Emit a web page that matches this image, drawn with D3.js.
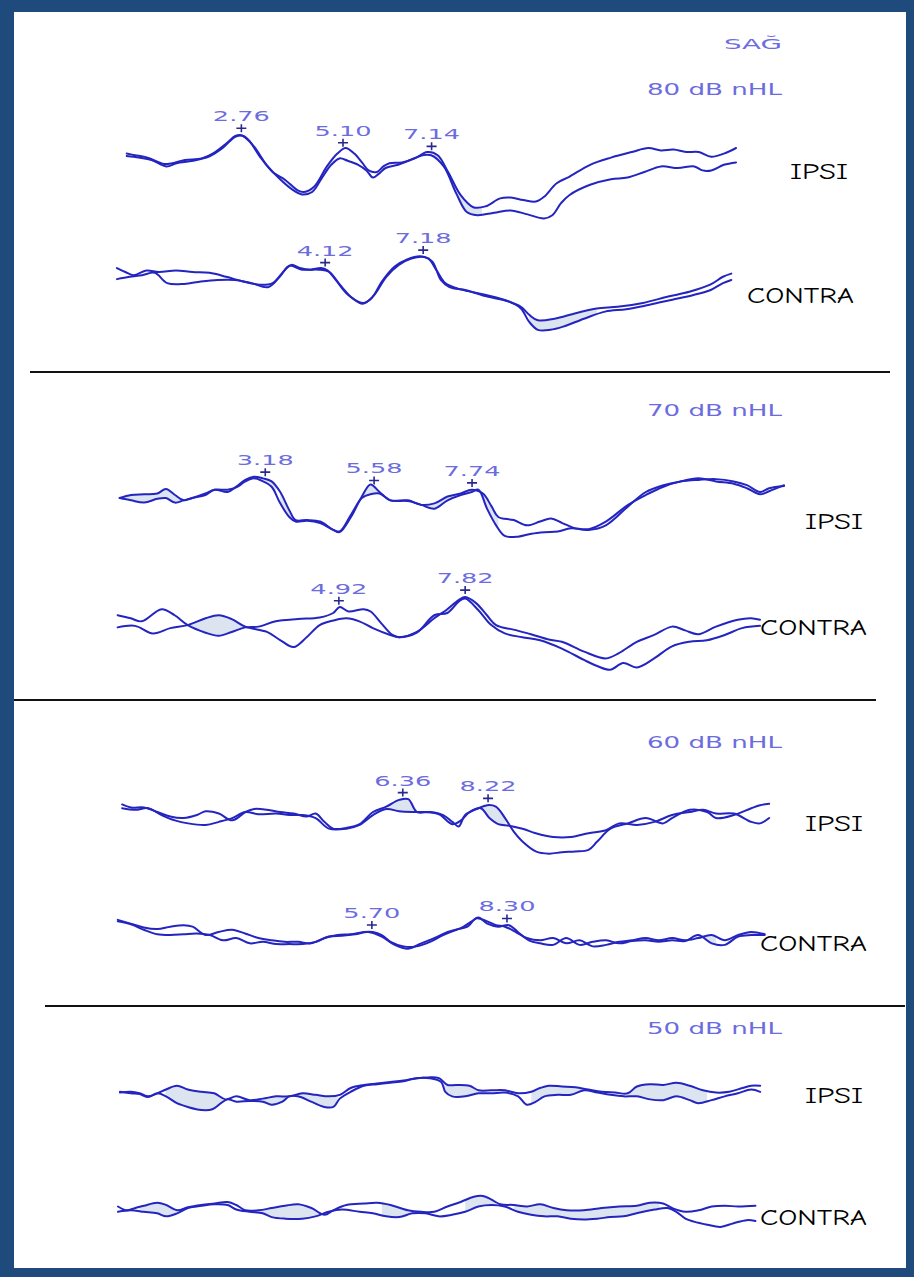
<!DOCTYPE html>
<html>
<head>
<meta charset="utf-8">
<script src="https://cdn.jsdelivr.net/npm/d3@7"></script>
<style>
  html, body { margin: 0; padding: 0; background: #ffffff; }
  svg { display: block; }
</style>
</head>
<body>
<svg id="chart" width="914" height="1277"></svg>
<script>
// Right ear (SAĞ) ABR recordings: two replications per channel, time in ms, amplitude in µV.
const earLabel = "SAĞ";
const levels = ["80 dB nHL", "70 dB nHL", "60 dB nHL", "50 dB nHL"];
const channels = ["IPSI", "CONTRA"];

// ---- 80 dB nHL ----
const ipsi80A = [[0.12,-0.02],[0.31,-0.04],[0.60,-0.07],[0.98,-0.15],[1.17,-0.14],[1.46,-0.10],[1.85,-0.08],[2.13,-0.01],[2.42,0.11],[2.62,0.20],[2.76,0.21],[2.95,0.13],[3.19,-0.06],[3.48,-0.25],[3.77,-0.35],[4.06,-0.48],[4.20,-0.50],[4.44,-0.43],[4.73,-0.18],[4.97,-0.02],[5.16,0.05],[5.36,-0.02],[5.55,-0.14],[5.69,-0.23],[5.88,-0.25],[6.03,-0.18],[6.17,-0.14],[6.46,-0.13],[6.75,-0.08],[7.04,0.00],[7.28,-0.04],[7.52,-0.25],[7.81,-0.54],[8.10,-0.69],[8.38,-0.68],[8.72,-0.58],[8.96,-0.57],[9.25,-0.60],[9.54,-0.62],[9.73,-0.56],[10.02,-0.39],[10.31,-0.31],[10.79,-0.16],[11.27,-0.07],[11.75,0.00],[12.13,0.05],[12.42,0.02],[12.71,0.03],[13.00,0.00],[13.29,0.00],[13.58,-0.06],[13.87,-0.02],[14.15,0.05]];
const ipsi80B = [[0.12,-0.05],[0.40,-0.07],[0.69,-0.10],[1.03,-0.18],[1.27,-0.14],[1.65,-0.11],[2.04,-0.05],[2.33,0.05],[2.62,0.19],[2.81,0.20],[3.05,0.07],[3.34,-0.16],[3.67,-0.35],[3.96,-0.48],[4.15,-0.53],[4.39,-0.50],[4.63,-0.31],[4.83,-0.16],[5.02,-0.08],[5.21,-0.11],[5.45,-0.16],[5.64,-0.23],[5.79,-0.32],[5.93,-0.27],[6.08,-0.20],[6.37,-0.16],[6.65,-0.10],[6.94,-0.04],[7.13,-0.04],[7.42,-0.18],[7.71,-0.52],[7.95,-0.75],[8.19,-0.79],[8.58,-0.76],[8.96,-0.73],[9.35,-0.78],[9.73,-0.83],[9.92,-0.79],[10.12,-0.64],[10.31,-0.54],[10.79,-0.41],[11.27,-0.34],[11.65,-0.32],[12.04,-0.25],[12.42,-0.18],[12.81,-0.20],[13.19,-0.18],[13.38,-0.23],[13.58,-0.23],[13.87,-0.16],[14.15,-0.13]];
const ipsi80Peaks = [2.76, 5.10, 7.14];
const ipsi80Shade = [[2.85,4.9],[7.2,8.3]];

const contra80A = [[-2.38,0.07],[-2.12,0.02],[-1.86,-0.02],[-1.46,0.04],[-1.07,0.02],[-0.54,0.04],[-0.02,0.02],[0.51,0.01],[1.03,-0.04],[1.56,-0.10],[2.08,-0.14],[2.48,-0.12],[2.87,0.05],[3.07,0.11],[3.33,0.07],[3.66,0.05],[3.99,0.07],[4.19,0.04],[4.45,-0.08],[4.84,-0.27],[5.30,-0.37],[5.57,-0.31],[5.89,-0.10],[6.29,0.09],[6.68,0.18],[7.08,0.22],[7.34,0.19],[7.60,0.04],[7.87,-0.12],[8.26,-0.19],[8.92,-0.25],[9.70,-0.33],[10.23,-0.42],[10.49,-0.52],[10.76,-0.59],[11.28,-0.57],[11.94,-0.50],[12.60,-0.44],[13.25,-0.42],[14.04,-0.37],[14.83,-0.29],[15.49,-0.23],[16.14,-0.14],[16.54,-0.04],[16.80,0.00]];
const contra80B = [[-2.38,-0.07],[-1.99,-0.04],[-1.60,-0.02],[-1.20,0.01],[-0.81,-0.12],[-0.28,-0.13],[0.24,-0.10],[0.77,-0.08],[1.30,-0.08],[1.82,-0.12],[2.35,-0.17],[2.74,-0.02],[3.00,0.10],[3.40,0.05],[3.92,0.05],[4.25,0.02],[4.58,-0.14],[4.97,-0.31],[5.30,-0.38],[5.63,-0.28],[6.03,-0.04],[6.42,0.11],[6.81,0.19],[7.21,0.21],[7.47,0.15],[7.73,-0.08],[8.00,-0.17],[8.52,-0.21],[9.18,-0.29],[9.84,-0.35],[10.23,-0.44],[10.49,-0.61],[10.76,-0.71],[11.15,-0.71],[11.55,-0.67],[12.20,-0.57],[12.86,-0.48],[13.52,-0.45],[14.17,-0.40],[14.96,-0.33],[15.62,-0.27],[16.14,-0.21],[16.54,-0.12],[16.80,-0.08]];
const contra80Peaks = [4.12, 7.18];
const contra80Shade = [[1.95,2.6],[6.2,6.6],[7.47,8.26],[10.49,12.6]];

// ---- 70 dB nHL ----
const ipsi70A = [[-0.03,-0.15],[0.22,-0.11],[0.51,-0.10],[0.80,-0.09],[0.99,-0.03],[1.19,-0.11],[1.38,-0.18],[1.57,-0.15],[1.86,-0.11],[2.06,-0.04],[2.35,-0.07],[2.54,0.00],[2.74,0.09],[2.93,0.13],[3.13,0.11],[3.32,0.07],[3.51,-0.07],[3.71,-0.31],[3.85,-0.44],[4.10,-0.44],[4.39,-0.46],[4.68,-0.57],[4.82,-0.60],[5.07,-0.40],[5.31,-0.13],[5.50,0.03],[5.70,-0.07],[5.94,-0.18],[6.33,-0.18],[6.62,-0.24],[6.91,-0.22],[7.20,-0.13],[7.49,-0.09],[7.73,-0.04],[7.98,-0.09],[8.17,-0.26],[8.32,-0.40],[8.66,-0.44],[8.95,-0.51],[9.24,-0.46],[9.48,-0.42],[9.73,-0.48],[10.02,-0.55],[10.31,-0.57],[10.69,-0.51],[11.18,-0.26],[11.57,-0.07],[11.96,0.02],[12.34,0.07],[12.73,0.09],[13.12,0.10],[13.51,0.07],[13.80,0.02],[14.09,-0.07],[14.29,-0.02],[14.62,0.01]];
const ipsi70B = [[-0.03,-0.15],[0.22,-0.18],[0.51,-0.21],[0.80,-0.16],[0.99,-0.15],[1.19,-0.21],[1.38,-0.18],[1.57,-0.15],[1.86,-0.09],[2.06,-0.04],[2.35,-0.04],[2.54,-0.01],[2.74,0.07],[2.93,0.11],[3.13,0.07],[3.32,0.00],[3.51,-0.22],[3.71,-0.40],[3.85,-0.46],[4.10,-0.45],[4.39,-0.48],[4.68,-0.57],[4.82,-0.59],[5.07,-0.37],[5.31,-0.15],[5.50,-0.10],[5.70,-0.09],[5.94,-0.18],[6.33,-0.19],[6.62,-0.24],[6.91,-0.29],[7.20,-0.18],[7.49,-0.11],[7.73,-0.07],[7.88,-0.04],[8.07,-0.29],[8.27,-0.51],[8.46,-0.65],[8.75,-0.66],[9.05,-0.62],[9.34,-0.60],[9.63,-0.59],[9.92,-0.55],[10.31,-0.56],[10.69,-0.46],[11.18,-0.24],[11.57,-0.11],[11.96,0.00],[12.34,0.07],[12.73,0.11],[13.12,0.07],[13.51,0.04],[13.80,-0.02],[14.09,-0.10],[14.29,-0.06],[14.62,0.02]];
const ipsi70Peaks = [3.18, 5.58, 7.74];
const ipsi70Shade = [[0.07,1.33],[2.74,3.42],[3.51,4.19],[5.26,5.75],[6.52,7.3],[7.78,8.32],[11.37,12.15]];

const contra70A = [[-0.16,-0.08],[0.14,-0.12],[0.39,-0.16],[0.85,0.00],[1.15,-0.08],[1.45,-0.21],[1.86,-0.31],[2.16,-0.35],[2.46,-0.30],[2.77,-0.24],[3.07,-0.23],[3.47,-0.16],[3.98,-0.13],[4.48,-0.11],[4.79,-0.05],[4.94,0.03],[5.14,-0.03],[5.49,0.00],[5.65,-0.03],[5.90,-0.19],[6.15,-0.34],[6.30,-0.37],[6.71,-0.30],[7.11,-0.12],[7.41,0.00],[7.67,0.12],[7.82,0.16],[8.07,0.08],[8.32,-0.08],[8.53,-0.21],[8.93,-0.27],[9.33,-0.33],[9.74,-0.40],[10.04,-0.43],[10.55,-0.56],[11.05,-0.65],[11.35,-0.58],[11.76,-0.43],[12.16,-0.34],[12.57,-0.23],[12.87,-0.28],[13.17,-0.33],[13.58,-0.23],[14.08,-0.14],[14.38,-0.12],[14.59,-0.14]];
const contra70B = [[-0.16,-0.24],[0.24,-0.22],[0.65,-0.32],[1.05,-0.25],[1.45,-0.21],[1.86,-0.12],[2.16,-0.08],[2.46,-0.13],[2.77,-0.23],[3.27,-0.30],[3.58,-0.41],[3.88,-0.50],[4.18,-0.37],[4.48,-0.21],[4.79,-0.15],[5.09,-0.12],[5.39,-0.16],[5.70,-0.25],[6.10,-0.34],[6.30,-0.37],[6.71,-0.31],[7.11,-0.08],[7.41,-0.05],[7.67,0.10],[7.82,0.14],[8.12,-0.01],[8.42,-0.21],[8.73,-0.32],[9.13,-0.37],[9.54,-0.41],[10.04,-0.52],[10.55,-0.67],[10.85,-0.75],[11.15,-0.80],[11.45,-0.71],[11.76,-0.77],[12.16,-0.65],[12.57,-0.49],[12.97,-0.43],[13.37,-0.41],[13.78,-0.34],[14.18,-0.25],[14.59,-0.22]];
const contra70Peaks = [4.92, 7.82];
const contra70Shade = [[1.45,2.77],[7.06,7.52]];

// ---- 60 dB nHL ----
const ipsi60A = [[0.24,0.08],[0.43,0.04],[0.72,0.04],[1.01,-0.02],[1.29,-0.08],[1.58,-0.10],[1.87,-0.06],[2.06,-0.01],[2.35,-0.04],[2.64,-0.13],[2.93,-0.02],[3.12,0.02],[3.40,0.01],[3.69,-0.02],[3.98,-0.04],[4.27,-0.08],[4.46,-0.04],[4.65,-0.15],[4.84,-0.24],[5.13,-0.23],[5.42,-0.18],[5.71,-0.02],[6.00,0.05],[6.28,0.14],[6.48,0.15],[6.67,-0.02],[6.96,-0.02],[7.24,-0.06],[7.44,-0.15],[7.58,-0.21],[7.72,-0.06],[8.01,0.03],[8.20,0.07],[8.39,0.05],[8.59,-0.10],[8.78,-0.28],[8.97,-0.41],[9.26,-0.54],[9.55,-0.57],[9.83,-0.55],[10.12,-0.54],[10.41,-0.52],[10.60,-0.41],[10.89,-0.24],[11.27,-0.17],[11.66,-0.10],[12.04,-0.17],[12.23,-0.10],[12.62,0.01],[13.00,-0.02],[13.19,-0.10],[13.58,-0.06],[13.96,0.03],[14.15,0.07],[14.35,0.09]];
const ipsi60B = [[0.24,0.03],[0.53,0.01],[0.81,0.03],[1.10,-0.06],[1.39,-0.13],[1.68,-0.17],[2.06,-0.19],[2.35,-0.15],[2.64,-0.10],[2.93,-0.02],[3.21,-0.05],[3.60,-0.04],[3.89,-0.06],[4.17,-0.06],[4.46,-0.10],[4.75,-0.24],[5.13,-0.24],[5.42,-0.19],[5.71,-0.06],[6.00,0.02],[6.28,-0.01],[6.57,-0.02],[6.86,-0.02],[7.15,-0.05],[7.44,-0.18],[7.63,-0.13],[7.82,-0.02],[8.06,0.03],[8.25,-0.10],[8.44,-0.18],[8.68,-0.20],[8.97,-0.24],[9.26,-0.30],[9.64,-0.35],[10.03,-0.35],[10.41,-0.30],[10.79,-0.26],[11.08,-0.17],[11.47,-0.19],[11.85,-0.15],[12.23,-0.06],[12.62,-0.02],[12.91,0.01],[13.19,-0.04],[13.58,-0.04],[13.96,-0.15],[14.15,-0.17],[14.35,-0.10]];
const ipsi60Peaks = [6.36, 8.22];
const ipsi60Shade = [[5.6,6.6],[7.9,8.6]];

const contra60A = [[0.81,0.04],[1.06,-0.01],[1.31,-0.06],[1.57,-0.08],[1.82,-0.05],[2.08,-0.03],[2.25,-0.05],[2.50,-0.16],[2.75,-0.12],[3.01,-0.09],[3.26,-0.14],[3.52,-0.20],[3.77,-0.23],[4.02,-0.25],[4.28,-0.25],[4.53,-0.27],[4.79,-0.20],[5.04,-0.16],[5.29,-0.15],[5.55,-0.12],[5.72,-0.12],[5.89,-0.16],[6.06,-0.25],[6.31,-0.31],[6.56,-0.31],[6.82,-0.25],[7.07,-0.16],[7.33,-0.09],[7.54,-0.05],[7.71,0.06],[7.92,0.02],[8.09,-0.03],[8.26,-0.05],[8.47,-0.12],[8.68,-0.20],[8.94,-0.23],[9.19,-0.20],[9.44,-0.27],[9.70,-0.23],[9.95,-0.31],[10.21,-0.29],[10.46,-0.25],[10.71,-0.23],[10.97,-0.20],[11.22,-0.23],[11.48,-0.20],[11.73,-0.23],[11.98,-0.20],[12.24,-0.16],[12.49,-0.23],[12.75,-0.16],[13.00,-0.12],[13.26,-0.15]];
const contra60B = [[0.81,0.02],[1.06,-0.02],[1.31,-0.09],[1.57,-0.15],[1.82,-0.16],[2.08,-0.15],[2.33,-0.14],[2.58,-0.16],[2.84,-0.23],[3.09,-0.20],[3.35,-0.27],[3.60,-0.25],[3.86,-0.28],[4.11,-0.28],[4.36,-0.28],[4.62,-0.25],[4.87,-0.18],[5.12,-0.17],[5.38,-0.15],[5.63,-0.12],[5.89,-0.18],[6.14,-0.29],[6.40,-0.34],[6.65,-0.27],[6.90,-0.20],[7.16,-0.12],[7.41,-0.07],[7.62,0.02],[7.75,0.07],[7.92,-0.01],[8.13,-0.05],[8.34,-0.03],[8.51,-0.12],[8.72,-0.23],[8.94,-0.27],[9.19,-0.29],[9.44,-0.20],[9.70,-0.29],[9.95,-0.25],[10.21,-0.23],[10.46,-0.27],[10.71,-0.24],[10.97,-0.23],[11.22,-0.25],[11.48,-0.23],[11.73,-0.24],[11.98,-0.16],[12.24,-0.27],[12.49,-0.29],[12.75,-0.18],[13.00,-0.16],[13.26,-0.16]];
const contra60Peaks = [5.70, 8.30];
const contra60Shade = [[4.62,5.04],[6.4,7.07],[7.58,8.26],[11.98,12.32],[12.66,13.17]];

// ---- 50 dB nHL (no waves marked) ----
const ipsi50A = [[0.00,-0.08],[0.24,-0.07],[0.43,-0.09],[0.62,-0.13],[0.82,-0.09],[1.01,-0.04],[1.25,0.01],[1.49,-0.04],[1.79,-0.07],[2.07,-0.09],[2.32,-0.17],[2.56,-0.13],[2.85,-0.18],[3.14,-0.16],[3.43,-0.13],[3.72,-0.13],[4.01,-0.09],[4.30,-0.11],[4.59,-0.13],[4.83,-0.11],[5.07,-0.02],[5.36,0.02],[5.65,0.04],[5.94,0.06],[6.23,0.08],[6.52,0.11],[6.77,0.12],[7.01,0.11],[7.20,0.02],[7.39,0.02],[7.68,0.01],[7.88,-0.05],[8.17,-0.05],[8.46,-0.05],[8.75,-0.09],[9.04,-0.07],[9.23,-0.02],[9.42,0.01],[9.71,0.00],[10.01,-0.01],[10.29,-0.04],[10.59,-0.07],[10.88,-0.08],[11.16,-0.09],[11.36,0.00],[11.65,0.03],[11.94,0.02],[12.23,0.05],[12.52,0.01],[12.81,-0.05],[13.10,-0.08],[13.39,-0.07],[13.68,-0.02],[13.87,0.01],[14.07,0.01]];
const ipsi50B = [[0.00,-0.07],[0.24,-0.09],[0.43,-0.10],[0.62,-0.14],[0.82,-0.09],[1.01,-0.13],[1.25,-0.22],[1.49,-0.27],[1.79,-0.31],[2.03,-0.30],[2.22,-0.22],[2.36,-0.17],[2.56,-0.20],[2.85,-0.19],[3.14,-0.20],[3.33,-0.24],[3.57,-0.20],[3.72,-0.13],[3.91,-0.13],[4.20,-0.20],[4.49,-0.27],[4.69,-0.27],[4.83,-0.16],[5.07,-0.07],[5.36,0.01],[5.65,0.03],[5.94,0.05],[6.23,0.07],[6.52,0.11],[6.81,0.11],[7.06,0.06],[7.15,-0.07],[7.30,-0.13],[7.59,-0.13],[7.88,-0.09],[8.17,-0.09],[8.46,-0.08],[8.75,-0.13],[8.94,-0.24],[9.14,-0.20],[9.33,-0.13],[9.62,-0.11],[9.91,-0.11],[10.20,-0.05],[10.49,-0.08],[10.78,-0.11],[11.07,-0.13],[11.36,-0.13],[11.65,-0.17],[11.94,-0.18],[12.23,-0.13],[12.52,-0.18],[12.71,-0.22],[13.00,-0.18],[13.29,-0.13],[13.58,-0.09],[13.87,-0.04],[14.07,-0.07]];
const ipsi50Peaks = [];
const ipsi50Shade = [[1.0,2.27],[2.75,3.62],[3.82,4.78],[7.1,8.07],[9.04,10.2],[11.16,12.9]];

const contra50A = [[0.00,0.05],[0.18,0.00],[0.38,0.03],[0.57,0.06],[0.86,0.10],[1.06,0.07],[1.30,0.00],[1.54,0.04],[1.83,0.07],[2.12,0.09],[2.41,0.11],[2.60,0.07],[2.80,0.00],[3.09,0.00],[3.38,0.03],[3.67,0.06],[3.96,0.08],[4.25,0.03],[4.54,-0.06],[4.73,0.00],[5.02,0.07],[5.41,0.09],[5.70,0.10],[5.99,0.07],[6.37,0.00],[6.66,-0.02],[6.95,-0.02],[7.24,0.05],[7.53,0.11],[7.82,0.18],[8.02,0.19],[8.21,0.14],[8.40,0.08],[8.70,0.07],[8.99,0.05],[9.28,0.08],[9.57,0.03],[9.86,0.00],[10.24,0.00],[10.63,0.03],[11.02,0.05],[11.40,0.06],[11.69,0.10],[11.98,0.09],[12.18,0.03],[12.47,-0.02],[12.76,0.00],[13.05,0.05],[13.34,0.06],[13.63,0.05],[14.01,0.06]];
const contra50B = [[0.00,-0.02],[0.28,0.00],[0.57,-0.02],[0.86,-0.04],[1.06,-0.08],[1.30,-0.04],[1.54,0.03],[1.83,0.06],[2.12,0.08],[2.41,0.07],[2.60,0.01],[2.89,-0.02],[3.18,-0.04],[3.38,-0.09],[3.67,-0.11],[4.05,-0.11],[4.34,-0.08],[4.63,-0.02],[4.92,0.01],[5.31,-0.02],[5.60,-0.04],[5.89,-0.08],[6.18,-0.09],[6.47,-0.04],[6.76,-0.04],[7.05,-0.08],[7.34,-0.06],[7.63,-0.02],[7.92,0.05],[8.21,0.07],[8.50,0.05],[8.79,-0.02],[9.08,-0.06],[9.37,-0.08],[9.66,-0.08],[9.95,-0.11],[10.24,-0.12],[10.53,-0.11],[10.82,-0.09],[11.11,-0.08],[11.40,-0.04],[11.79,0.01],[12.08,0.03],[12.27,-0.02],[12.47,-0.11],[12.66,-0.15],[12.95,-0.19],[13.24,-0.22],[13.53,-0.17],[13.82,-0.13],[14.01,-0.14]];
const contra50Peaks = [];
const contra50Shade = [[0.47,1.35],[2.89,4.63],[5.8,6.57],[7.63,8.31],[8.7,11.9]];

// Recording list: level index, channel index, replications, marked waves, shaded overlap spans
const recordings = [
  { level: 0, channel: 0, a: ipsi80A,   b: ipsi80B,   peaks: ipsi80Peaks,   shade: ipsi80Shade },
  { level: 0, channel: 1, a: contra80A, b: contra80B, peaks: contra80Peaks, shade: contra80Shade },
  { level: 1, channel: 0, a: ipsi70A,   b: ipsi70B,   peaks: ipsi70Peaks,   shade: ipsi70Shade },
  { level: 1, channel: 1, a: contra70A, b: contra70B, peaks: contra70Peaks, shade: contra70Shade },
  { level: 2, channel: 0, a: ipsi60A,   b: ipsi60B,   peaks: ipsi60Peaks,   shade: ipsi60Shade },
  { level: 2, channel: 1, a: contra60A, b: contra60B, peaks: contra60Peaks, shade: contra60Shade },
  { level: 3, channel: 0, a: ipsi50A,   b: ipsi50B,   peaks: ipsi50Peaks,   shade: ipsi50Shade },
  { level: 3, channel: 1, a: contra50A, b: contra50B, peaks: contra50Peaks, shade: contra50Shade }
];

// ---------- layout ----------
const W = 914, H = 1277;
const frame = { x: 14, y: 12, w: 892, h: 1256, color: "#1f4a7c" };
// per recording: pixel of 0 ms, px per ms, baseline y, px per µV, channel label placement
const panels = [
  { x0: 121.5,  k: 43.43, base: 152.0,  gain: 80.0,  lx: 790, ly: 179,  lw: 58 },
  { x0: 193.2,  k: 32.03, base: 273.6,  gain: 79.2,  lx: 747, ly: 303,  lw: 107 },
  { x0: 121.05, k: 45.35, base: 486.7,  gain: 75.75, lx: 805, ly: 529,  lw: 58 },
  { x0: 124.6,  k: 43.55, base: 609.2,  gain: 75.75, lx: 760, ly: 635,  lw: 107 },
  { x0: 111.1,  k: 45.86, base: 810.5,  gain: 75.75, lx: 805, ly: 831,  lw: 58 },
  { x0: 75.7,   k: 51.96, base: 922.9,  gain: 75.75, lx: 760, ly: 951,  lw: 107 },
  { x0: 120.0,  k: 45.5,  base: 1086.5, gain: 75.75, lx: 805, ly: 1103, lw: 58 },
  { x0: 118.0,  k: 45.5,  base: 1210.3, gain: 75.75, lx: 760, ly: 1225, lw: 107 }
];
const levelLabelPos = [ { x: 647, y: 95 }, { x: 647, y: 416 }, { x: 647, y: 748 }, { x: 647, y: 1034 } ];
const separators = [ { x1: 30, x2: 890, y: 372 }, { x1: 14, x2: 876, y: 700 }, { x1: 45, x2: 905, y: 1006 } ];

const traceColor = "#2424c0";
const shadeColor = "#dce4f0";
const textBlue = "#6c6ce0";
const markColor = "#28288e";

const svg = d3.select("#chart");

svg.append("rect").attr("width", W).attr("height", H).attr("fill", frame.color);
svg.append("rect").attr("x", frame.x).attr("y", frame.y).attr("width", frame.w).attr("height", frame.h).attr("fill", "#ffffff");

svg.selectAll("line.sep").data(separators).join("line")
  .attr("class", "sep")
  .attr("x1", d => d.x1).attr("x2", d => d.x2)
  .attr("y1", d => d.y).attr("y2", d => d.y)
  .attr("stroke", "#111").attr("stroke-width", 1.8);

// ear and stimulus level captions
svg.append("text")
  .attr("x", 724).attr("y", 49)
  .attr("font-family", "'DejaVu Sans', sans-serif").attr("font-size", 14)
  .attr("textLength", 58).attr("lengthAdjust", "spacingAndGlyphs")
  .attr("fill", textBlue).text(earLabel);

svg.selectAll("text.level").data(levels).join("text")
  .attr("class", "level")
  .attr("x", (d, i) => levelLabelPos[i].x).attr("y", (d, i) => levelLabelPos[i].y)
  .attr("font-family", "'DejaVu Sans', sans-serif").attr("font-size", 15)
  .attr("textLength", 135).attr("lengthAdjust", "spacingAndGlyphs")
  .attr("fill", textBlue).text(d => d);

// linear interpolation of a replication at time t (for shading and wave marks)
const bis = d3.bisector(d => d[0]).left;
function valueAt(pts, t) {
  const i = bis(pts, t);
  if (i <= 0) return pts[0][1];
  if (i >= pts.length) return pts[pts.length - 1][1];
  const [t0, v0] = pts[i - 1], [t1, v1] = pts[i];
  return v0 + (v1 - v0) * (t - t0) / (t1 - t0);
}

recordings.forEach((rec, i) => {
  const p = panels[i];
  const x = d3.scaleLinear().domain([0, 14]).range([p.x0, p.x0 + 14 * p.k]);
  const y = d3.scaleLinear().domain([-1, 1]).range([p.base + p.gain, p.base - p.gain]);
  const g = svg.append("g").attr("class", "recording");

  // shaded overlap between the two replications
  const area = d3.area()
    .x(d => x(d.t)).y0(d => y(d.a)).y1(d => y(d.b))
    .curve(d3.curveMonotoneX);
  rec.shade.forEach(([s0, s1]) => {
    const ts = Array.from(new Set([s0, s1,
      ...rec.a.map(d => d[0]).filter(t => t > s0 && t < s1),
      ...rec.b.map(d => d[0]).filter(t => t > s0 && t < s1)])).sort((m, n) => m - n);
    const pts = ts.map(t => ({ t, a: valueAt(rec.a, t), b: valueAt(rec.b, t) }));
    g.append("path").attr("d", area(pts)).attr("fill", shadeColor).attr("stroke", "none");
  });

  // replications
  const line = d3.line().x(d => x(d[0])).y(d => y(d[1])).curve(d3.curveCatmullRom.alpha(0.5));
  [rec.a, rec.b].forEach(rep => {
    g.append("path").attr("d", line(rep))
      .attr("fill", "none").attr("stroke", traceColor)
      .attr("stroke-width", 2).attr("stroke-linejoin", "round").attr("stroke-linecap", "round");
  });

  // wave marks with latency labels
  rec.peaks.forEach(t => {
    const top = Math.min(y(valueAt(rec.a, t)), y(valueAt(rec.b, t)));
    const mx = x(t), my = top - 7;
    g.append("path")
      .attr("d", `M${mx - 5},${my}H${mx + 5}M${mx},${my - 4}V${my + 4}`)
      .attr("stroke", markColor).attr("stroke-width", 1.6).attr("fill", "none");
    g.append("text")
      .attr("x", mx).attr("y", my - 7)
      .attr("text-anchor", "middle")
      .attr("font-family", "'DejaVu Sans', sans-serif").attr("font-size", 14.5)
      .attr("textLength", 57).attr("lengthAdjust", "spacingAndGlyphs")
      .attr("fill", textBlue).text(t.toFixed(2));
  });

  // channel label
  svg.append("text")
    .attr("x", p.lx).attr("y", p.ly)
    .attr("font-family", "'Comic Sans MS', 'Comic Neue', 'Open Sans', sans-serif")
    .attr("font-size", 23)
    .attr("textLength", p.lw).attr("lengthAdjust", "spacingAndGlyphs")
    .attr("fill", "#000").text(channels[rec.channel]);
});
</script>
</body>
</html>
